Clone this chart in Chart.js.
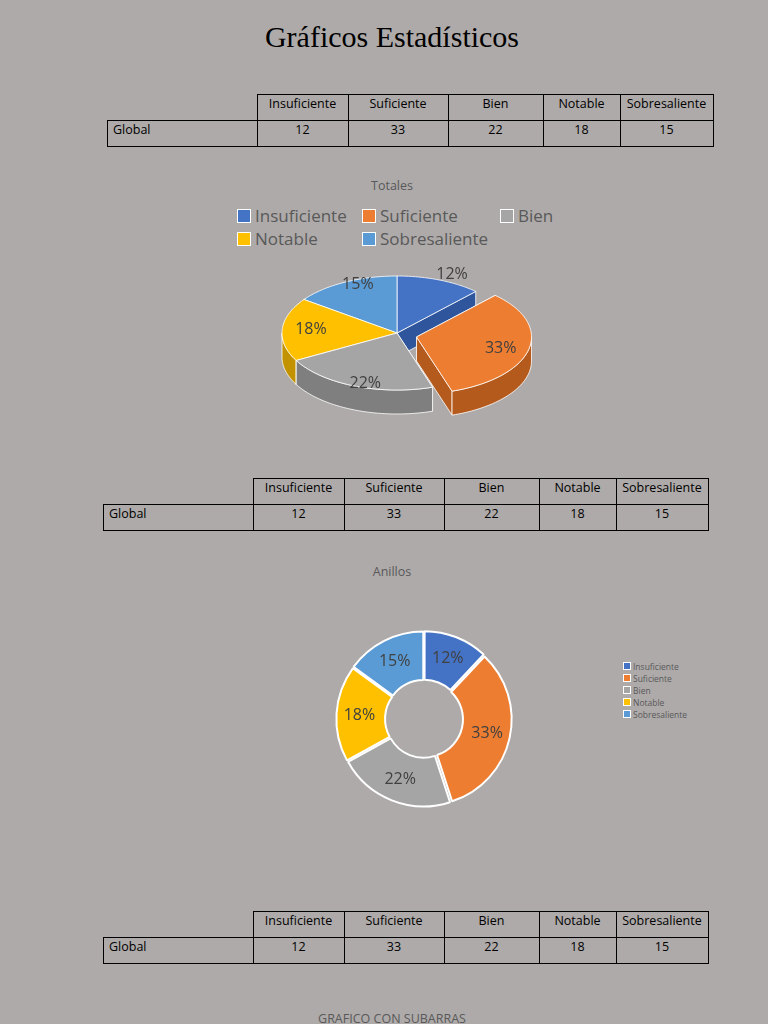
<!DOCTYPE html>
<html><head><meta charset="utf-8">
<script src="https://cdn.jsdelivr.net/npm/chart.js@4"></script>
<style>
body{margin:0;width:768px;height:1024px;background:#aeaaa9;position:relative;overflow:hidden;font-family:"Open Sans",Lato,sans-serif;}
.t{position:absolute;border-collapse:collapse;font-size:12.5px;color:#000;}
.t td{border:1px solid #000;height:23px;padding:0 5px 2px;text-align:center;vertical-align:top;line-height:18px}
.t td.e{border:none}
.t td.l{text-align:left}
.title{position:absolute;top:20px;width:784px;text-align:center;font-family:"Liberation Serif",serif;font-size:30px;color:#000}
.cap{position:absolute;width:784px;text-align:center;font-size:12.5px;color:#595959}
.lg{position:absolute;font-size:17px;color:#595959;}
.lg span{position:absolute;white-space:nowrap}
.lg i{display:inline-block;width:12px;height:12px;border:1px solid #fff;margin-right:4px;vertical-align:-1px}
.sl{position:absolute;left:623px;top:661px;font-size:8.5px;color:#595959;line-height:12px}
.sl i{display:inline-block;width:6px;height:6px;border:1px solid #fff;margin-right:2px}
</style></head><body>
<div class="title">Gráficos Estadísticos</div>
<div id="tables"></div>
<div class="cap" style="top:177px">Totales</div>
<div class="lg" id="lg1"></div>
<canvas id="pie3d" width="768" height="220" style="position:absolute;left:0;top:250px"></canvas>
<div class="cap" style="top:563px">Anillos</div>
<canvas id="donut" width="250" height="220" style="position:absolute;left:299px;top:609px"></canvas>
<div class="sl" id="lg2"></div>
<div class="cap" style="top:1010px">GRAFICO CON SUBARRAS</div>
<script>
const categories=["Insuficiente","Suficiente","Bien","Notable","Sobresaliente"];
const rowLabel="Global";
const values=[12,33,22,18,15];
const colors=["#4472c4","#ed7d31","#a5a5a5","#ffc000","#5b9bd5"];
const darkColors=["#2f569c","#b45a1c","#7f7f7f","#c29200","#3f7cb3"];

const tpos=[[107,94,[150,91,100,95,77,93]],[103,478,[150,91,100,95,77,92]],[103,911,[150,91,100,95,77,92]]];
let html="";
tpos.forEach(([x,y,w])=>{
  html+=`<table class="t" style="left:${x}px;top:${y}px"><tr><td class="e" style="width:${w[0]-11}px"></td>`+
  categories.map((c,i)=>`<td style="width:${w[i+1]-11}px">${c}</td>`).join("")+`</tr><tr><td class="l">${rowLabel}</td>`+
  values.map(v=>`<td>${v}</td>`).join("")+`</tr></table>`;
});
document.getElementById("tables").innerHTML=html;
const lpos=[[237,204],[362,204],[500,204],[237,227],[362,227]];
document.getElementById("lg1").innerHTML=categories.map((c,i)=>`<span style="left:${lpos[i][0]}px;top:${lpos[i][1]}px"><i style="background:${colors[i]}"></i>${c}</span>`).join("");
document.getElementById("lg2").innerHTML=categories.map((c,i)=>`<div><i style="background:${colors[i]}"></i>${c}</div>`).join("");

const total=values.reduce((a,b)=>a+b,0);
const pct=v=>Math.round(v/total*100)+"%";

const pie3d={id:"pie3d",afterDatasetsDraw(chart){
  const ctx=chart.ctx,meta=chart.getDatasetMeta(0);
  const cx=397,cy=83,rx=115,ry=57,d=24;
  const sl=meta.data.map((a,i)=>{
    const mid=(a.startAngle+a.endAngle)/2;
    const ex=i===1?20:0;
    return {i,s:a.startAngle,e:a.endAngle,mid,x:cx+ex*Math.cos(mid),y:cy+ex*Math.sin(mid)*0.9};
  });
  const P=(o,a,dy)=>[o.x+rx*Math.cos(a),o.y+ry*Math.sin(a)+(dy||0)];
  const ord=[...sl].sort((a,b)=>Math.sin(a.mid)-Math.sin(b.mid));
  ctx.save();ctx.strokeStyle="rgba(255,255,255,0.8)";ctx.lineWidth=1;
  ord.forEach(o=>{
    ctx.fillStyle=darkColors[o.i];
    [o.s,o.e].forEach(a=>{const p=P(o,a);ctx.beginPath();ctx.moveTo(o.x,o.y);ctx.lineTo(p[0],p[1]);ctx.lineTo(p[0],p[1]+d);ctx.lineTo(o.x,o.y+d);ctx.closePath();ctx.fill();ctx.stroke();});
    [[0,Math.PI],[2*Math.PI,3*Math.PI]].forEach(([a0,a1])=>{
      const s=Math.max(o.s,a0),e=Math.min(o.e,a1);
      if(e<=s)return;
      ctx.beginPath();
      for(let k=0;k<=40;k++){const a=s+(e-s)*k/40;const p=P(o,a);k?ctx.lineTo(p[0],p[1]):ctx.moveTo(p[0],p[1]);}
      for(let k=40;k>=0;k--){const a=s+(e-s)*k/40;const p=P(o,a,d);ctx.lineTo(p[0],p[1]);}
      ctx.closePath();ctx.fill();ctx.stroke();
    });
  });
  ord.forEach(o=>{
    ctx.fillStyle=colors[o.i];
    ctx.beginPath();ctx.moveTo(o.x,o.y);
    for(let k=0;k<=60;k++){const a=o.s+(o.e-o.s)*k/60;const p=P(o,a);ctx.lineTo(p[0],p[1]);}
    ctx.closePath();ctx.fill();ctx.stroke();
  });
  ctx.fillStyle="#404040";ctx.font="16px 'Open Sans',sans-serif";ctx.textAlign="center";ctx.textBaseline="middle";
  sl.forEach(o=>{
    const small=values[o.i]/total<0.13;
    const fx=small?1.3:0.75, fy=small?1.1:0.95;
    ctx.fillText(pct(values[o.i]),o.x+rx*fx*Math.cos(o.mid),o.y+ry*fy*Math.sin(o.mid));
  });
  ctx.restore();
}};
new Chart(document.getElementById("pie3d"),{type:"pie",
  data:{labels:categories,datasets:[{data:values,backgroundColor:"rgba(0,0,0,0)",borderWidth:0}]},
  options:{responsive:false,animation:false,events:[],plugins:{legend:{display:false},tooltip:{enabled:false}}},
  plugins:[pie3d]});

const donutLabels={id:"dl",afterDatasetsDraw(chart){
  const ctx=chart.ctx;ctx.save();ctx.fillStyle="#404040";ctx.font="16px 'Open Sans',sans-serif";ctx.textAlign="center";ctx.textBaseline="middle";
  chart.getDatasetMeta(0).data.forEach((a,i)=>{const p=a.tooltipPosition();ctx.fillText(pct(values[i]),p.x,p.y);});
  ctx.restore();}};
new Chart(document.getElementById("donut"),{type:"doughnut",
  data:{labels:categories,datasets:[{data:values,backgroundColor:colors,borderColor:"#ffffff",borderWidth:2,offset:6}]},
  options:{responsive:false,animation:false,events:[],radius:86,cutout:46,layout:{padding:0},plugins:{legend:{display:false},tooltip:{enabled:false}}},
  plugins:[donutLabels]});
</script>
</body></html>
